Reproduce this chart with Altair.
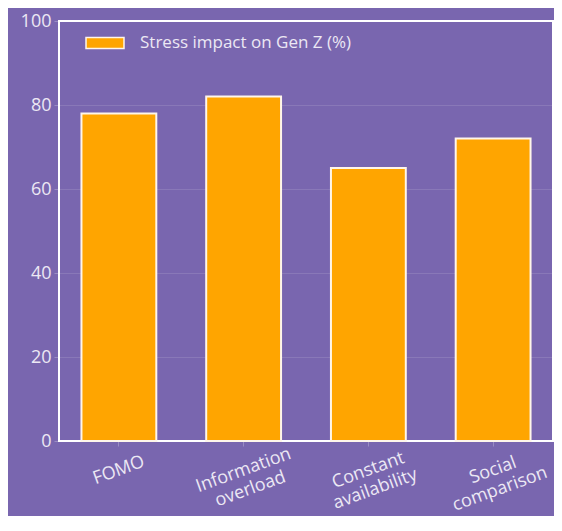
import altair as alt
import pandas as pd

categories = ["FOMO", "Information\noverload", "Constant\navailability", "Social\ncomparison"]
values = [78, 82, 65, 72]
series_name = "Stress impact on Gen Z (%)"
y_ticks = [0, 20, 40, 60, 80, 100]

df = pd.DataFrame({
    "category": categories,
    "value": values,
    "series": [series_name] * len(categories),
})

BG = "#7966AF"
TEXT = "#ECE8F4"
FONT = "Open Sans"

bars = alt.Chart(df).mark_bar(stroke="#FFF6EA", strokeWidth=2).encode(
    x=alt.X(
        "category:N", sort=None, title=None,
        scale=alt.Scale(paddingInner=0.4, paddingOuter=0.18),
        axis=alt.Axis(
            labelAngle=-20, labelExpr="split(datum.label, '\\n')",
            labelFontSize=18, labelColor=TEXT, labelFont=FONT,
            labelPadding=24, labelLineHeight=20, labelAlign="center", labelBaseline="middle",
            domain=False, ticks=True, tickSize=5, tickColor="rgba(255,255,255,0.25)",
            grid=False,
        ),
    ),
    y=alt.Y(
        "value:Q", title=None,
        scale=alt.Scale(domain=[0, 100], nice=False),
        axis=alt.Axis(
            values=y_ticks, labelFontSize=18, labelColor=TEXT, labelFont=FONT,
            labelPadding=3, tickSize=5, tickColor="rgba(255,255,255,0.25)",
            domain=False, grid=True, gridColor="#FFFFFF", gridOpacity=0.12,
        ),
    ),
    color=alt.Color(
        "series:N",
        scale=alt.Scale(range=["#FFA500"]),
        legend=alt.Legend(
            title=None, orient="none", legendX=26, legendY=2, padding=0,
            symbolType="M-1,-0.29L1,-0.29L1,0.29L-1,0.29Z", symbolSize=1444,
            symbolStrokeColor="#FFF6EA", symbolStrokeWidth=1.5, symbolOpacity=1,
            labelFontSize=17, labelColor=TEXT, labelFont=FONT, labelOffset=15,
            labelLimit=0,
        ),
    ),
)

chart = bars.properties(
    width=494, height=420,
    autosize=alt.AutoSizeParams(type="none"),
    padding={"left": 51, "top": 13, "right": 1, "bottom": 75},
    background=BG,
).configure_view(stroke="white", strokeWidth=2)

chart.save("out.html", embed_options={"renderer": "svg", "actions": False})
